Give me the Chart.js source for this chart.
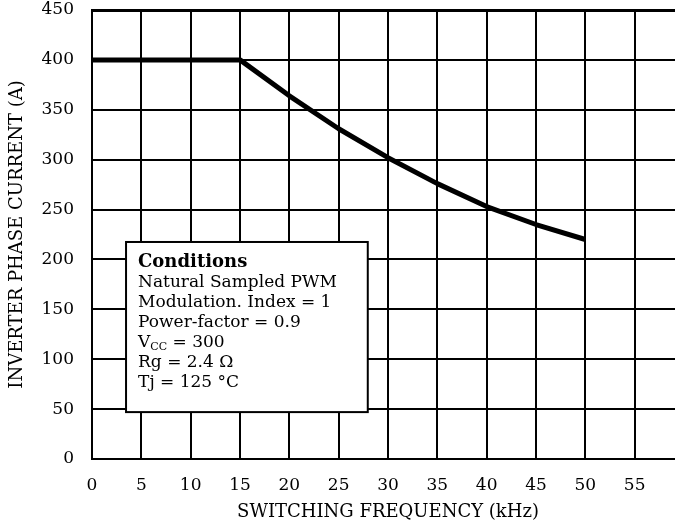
<!DOCTYPE html>
<html>
<head>
<meta charset="utf-8">
<script src="https://cdn.jsdelivr.net/npm/chart.js@4"></script>
<style>
  html, body { margin: 0; padding: 0; background: #fff; overflow: hidden; }
  #wrap { width: 690px; height: 529px; }
</style>
</head>
<body>
<div id="wrap"><canvas id="chart" width="690" height="529"></canvas></div>
<script>
const freqKHz = [0, 5, 10, 15, 20, 25, 30, 35, 40, 45, 50];
const phaseCurrentA = [400, 400, 400, 400, 364, 331, 302, 276, 253, 235, 220];
const xTicks = [0, 5, 10, 15, 20, 25, 30, 35, 40, 45, 50, 55, 60];
const yTicks = [0, 50, 100, 150, 200, 250, 300, 350, 400, 450];
const conditionLines = [
  "Natural Sampled PWM",
  "Modulation. Index = 1",
  "Power-factor = 0.9",
  ["V", "CC", " = 300"],
  "Rg = 2.4 \u03A9",
  "Tj = 125 \u00B0C",
];

const serif = "'DejaVu Serif', 'Liberation Serif', serif";

// white box with the test conditions, sits on top of the grid
const conditionsBox = {
  id: "conditionsBox",
  afterDatasetsDraw(chart) {
    const { ctx, scales: { x, y } } = chart;
    const left = x.getPixelForValue(3.45);
    const right = x.getPixelForValue(27.95);
    const top = y.getPixelForValue(217.5);
    const bottom = y.getPixelForValue(47);
    ctx.save();
    ctx.fillStyle = "#fff";
    ctx.fillRect(left, top, right - left, bottom - top);
    ctx.strokeStyle = "#000";
    ctx.lineWidth = 2;
    ctx.strokeRect(left, top, right - left, bottom - top);

    ctx.fillStyle = "#000";
    ctx.textBaseline = "alphabetic";
    const tx = left + 12;
    let ty = top + 25;
    ctx.font = "bold 18px " + serif;
    ctx.fillText("Conditions", tx, ty);
    conditionLines.forEach((line) => {
      ty += 20;
      ctx.font = "17px " + serif;
      if (Array.isArray(line)) {
        ctx.fillText(line[0], tx, ty);
        let w = ctx.measureText(line[0]).width;
        ctx.font = "11px " + serif;
        ctx.fillText(line[1], tx + w, ty + 3);
        w += ctx.measureText(line[1]).width;
        ctx.font = "17px " + serif;
        ctx.fillText(line[2], tx + w, ty);
      } else {
        ctx.fillText(line, tx, ty);
      }
    });
    ctx.restore();
  },
};

new Chart(document.getElementById("chart"), {
  type: "line",
  data: {
    datasets: [
      {
        data: freqKHz.map((f, i) => ({ x: f, y: phaseCurrentA[i] })),
        borderColor: "#000",
        borderWidth: 5,
        pointRadius: 0,
        tension: 0,
        borderCapStyle: "butt",
        borderJoinStyle: "round",
      },
    ],
  },
  options: {
    responsive: false,
    animation: false,
    layout: { padding: { top: 10, right: 6, left: 0, bottom: 6 } },
    plugins: { legend: { display: false }, tooltip: { enabled: false } },
    scales: {
      x: {
        type: "linear",
        min: 0,
        max: 60,
        afterBuildTicks: (s) => { s.ticks = xTicks.map((v) => ({ value: v })); },
        afterFit: (s) => { s.height = 64; s.paddingLeft = 0; s.paddingRight = 0; },
        border: { display: true, color: "#000", width: 2 },
        grid: { color: "#000", lineWidth: 2, drawTicks: false },
        ticks: {
          color: "#000",
          padding: 16,
          font: { family: serif, size: 17 },
          callback: (v) => (v === 60 ? "" : v),
          maxRotation: 0,
        },
        title: {
          display: true,
          text: "SWITCHING FREQUENCY (kHz)",
          color: "#000",
          font: { family: serif, size: 18 },
          padding: { top: 4, bottom: 0 },
        },
      },
      y: {
        min: 0,
        max: 450,
        afterBuildTicks: (s) => { s.ticks = yTicks.map((v) => ({ value: v })); },
        afterFit: (s) => { s.width = 92; s.paddingTop = 0; s.paddingBottom = 0; },
        border: { display: true, color: "#000", width: 2 },
        grid: {
          color: "#000",
          lineWidth: (c) => (c.tick && c.tick.value === 450 ? 3 : 2),
          drawTicks: false,
        },
        ticks: {
          color: "#000",
          padding: 18,
          font: { family: serif, size: 17 },
        },
        title: {
          display: true,
          text: "INVERTER PHASE CURRENT (A)",
          color: "#000",
          font: { family: serif, size: 18 },
          padding: { top: 7, bottom: 0 },
        },
      },
    },
  },
  plugins: [conditionsBox],
});
</script>
</body>
</html>
